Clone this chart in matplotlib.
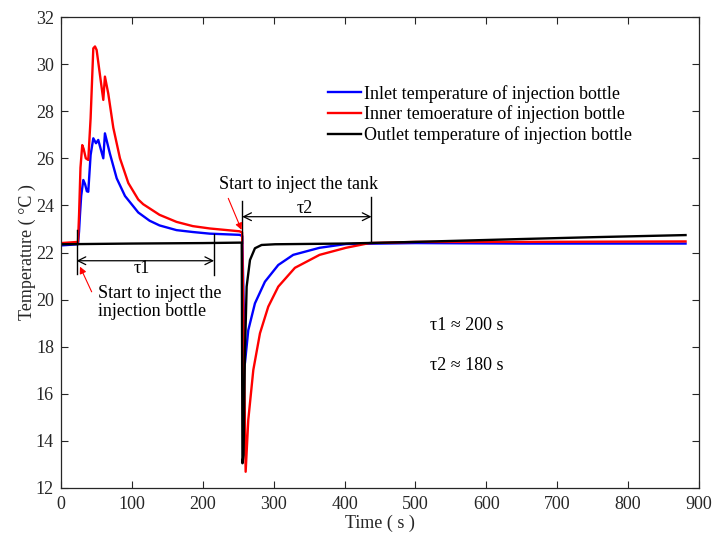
import matplotlib
matplotlib.use("Agg")
import matplotlib.pyplot as plt

plt.rcParams['font.family'] = ['Liberation Serif', 'DejaVu Serif']

# inlet temperature (blue)
t_in = [0, 24, 25.5, 26.8, 28.5, 31.5, 34, 36.5, 38.5, 41.8, 45.6, 49.4, 52.6, 56,
        59.7, 62, 69, 78.6, 90.3, 109, 125, 139, 163, 186, 210, 252, 255.7,
        259.5, 264.2, 273.6, 287.7, 306.5, 327.6, 364.8, 402, 500, 650, 881]
T_in = [22.3, 22.35, 22.9, 23.6, 24.4, 25.08, 24.9, 24.6, 24.58, 26.14, 26.85, 26.64, 26.78, 26.4,
        26.0, 27.06, 26.2, 25.15, 24.4, 23.7, 23.35, 23.15, 22.95, 22.87, 22.8, 22.75, 22.7,
        17.3, 18.7, 19.84, 20.76, 21.47, 21.9, 22.2, 22.36, 22.4, 22.38, 22.38]

# inner temperature (red)
t_inner = [0, 24, 25.5, 27.5, 30, 32, 35, 38.5, 41.8, 45.6, 48, 50.3, 55, 59.7, 62,
           66.7, 73.8, 83.2, 95, 109, 116, 139, 163, 186, 210, 252, 255.5,
           260.5, 264.2, 271.3, 280.7, 292.4, 306.5, 330, 364.8, 402, 435, 500, 650, 881]
T_inner = [22.4, 22.45, 23.6, 25.6, 26.56, 26.4, 26.0, 25.93, 27.7, 30.67, 30.75, 30.6, 29.54, 28.48, 29.47,
           28.75, 27.3, 26.0, 24.95, 24.25, 24.05, 23.6, 23.3, 23.12, 23.02, 22.9, 22.85,
           12.69, 14.89, 17.01, 18.57, 19.7, 20.55, 21.35, 21.9, 22.2, 22.4, 22.45, 22.45, 22.47]

# outlet temperature (black)
t_out = [0, 100, 200, 255, 256, 257.5, 259.5, 261.9, 266.6, 273.6, 283, 302, 400, 500, 647, 750, 881]
T_out = [22.35, 22.38, 22.4, 22.42, 13.05, 13.4, 17.72, 20.55, 21.68, 22.18, 22.32, 22.35, 22.38,
         22.45, 22.57, 22.65, 22.74]

labels = ["Inlet temperature of injection bottle",
          "Inner temoerature of injection bottle",
          "Outlet temperature of injection bottle"]

fig = plt.figure(figsize=(7.14, 5.4), dpi=100)
ax = fig.add_axes([0.0854, 0.0963, 0.8936, 0.8722])

ax.plot(t_in, T_in, color='#0000ff', lw=1.7, label=labels[0])
ax.plot(t_inner, T_inner, color='#ff0000', lw=1.7, label=labels[1])
ax.plot(t_out, T_out, color='black', lw=1.7, label=labels[2])

ax.set_xlim(0, 900)
ax.set_ylim(12, 32)
ax.set_xticks(range(0, 901, 100))
ax.set_yticks(range(12, 33, 2))
ax.tick_params(direction='in', top=True, right=True, length=5, width=0.8,
               labelsize=13, colors='#262626')
ax.tick_params(axis='x', pad=6)
ax.tick_params(axis='y', pad=5)
for s in ax.spines.values():
    s.set_linewidth(0.9)
    s.set_color('#262626')
ax.set_xlabel("Time ( s )", fontsize=13, color='#262626', labelpad=1)
ax.set_ylabel("Temperature ( °C )", fontsize=13, color='#262626', labelpad=0)

leg = ax.legend(loc='upper left', bbox_to_anchor=(0.418, 0.856), frameon=False,
                fontsize=13, handlelength=1.85, handletextpad=0.15,
                labelspacing=0.15, borderpad=0, borderaxespad=0)

# tau1 markers
ax.plot([22, 22], [21.1, 22.95], color='black', lw=1.0)
ax.plot([216, 216], [21.04, 22.8], color='black', lw=1.0)
ax.annotate('', xy=(22, 21.65), xytext=(216, 21.65),
            arrowprops=dict(arrowstyle='<->', color='black', lw=0.9,
                            shrinkA=0, shrinkB=0, mutation_scale=14))
ax.text(114, 21.3, 'τ1', fontsize=13, ha='center', va='center')

# tau2 markers
ax.plot([255.7, 255.7], [22.4, 24.2], color='black', lw=1.0)
ax.plot([438, 438], [22.46, 24.37], color='black', lw=1.0)
ax.annotate('', xy=(255.7, 23.52), xytext=(438, 23.52),
            arrowprops=dict(arrowstyle='<->', color='black', lw=0.9,
                            shrinkA=0, shrinkB=0, mutation_scale=14))
ax.text(344, 23.85, 'τ2', fontsize=13, ha='center', va='center')

# red arrows and notes
ax.annotate('', xy=(26.8, 21.4), xytext=(43.3, 20.33),
            arrowprops=dict(arrowstyle='-|>', color='red', lw=0.8,
                            shrinkA=0, shrinkB=0, mutation_scale=10))
ax.text(52.6, 19.87, 'Start to inject the\ninjection bottle', fontsize=13,
        ha='left', va='center', linespacing=1.1)

ax.annotate('', xy=(254.7, 22.96), xytext=(236, 24.3),
            arrowprops=dict(arrowstyle='-|>', color='red', lw=0.8,
                            shrinkA=0, shrinkB=0, mutation_scale=10))
ax.text(335, 24.87, 'Start to inject the tank', fontsize=13, ha='center', va='center')

ax.text(520, 18.92, 'τ1 ≈ 200 s', fontsize=13, ha='left', va='center')
ax.text(520, 17.22, 'τ2 ≈ 180 s', fontsize=13, ha='left', va='center')

fig.savefig("out.png", dpi=100)
